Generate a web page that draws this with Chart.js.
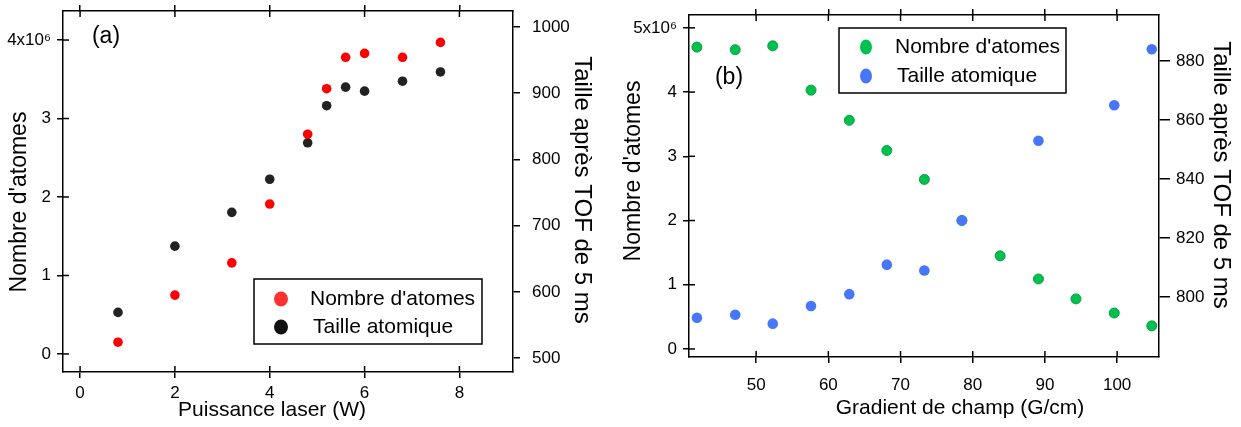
<!DOCTYPE html>
<html>
<head>
<meta charset="utf-8">
<script src="https://cdn.jsdelivr.net/npm/chart.js@4/dist/chart.umd.min.js"></script>
<style>
html, body { margin: 0; padding: 0; background: #fff; }
#wrapA { position: absolute; left: 0; top: 0; width: 620px; height: 427px; }
#wrapB { position: absolute; left: 620px; top: 0; width: 621px; height: 427px; }
</style>
</head>
<body>
<div id="wrapA"><canvas id="chartA"></canvas></div>
<div id="wrapB"><canvas id="chartB"></canvas></div>
<script>
// (a) puissance laser
var puissance = [0.8, 2, 3.2, 4, 4.8, 5.2, 5.6, 6, 6.8, 7.6];
var nombreA = [0.15e6, 0.75e6, 1.16e6, 1.91e6, 2.80e6, 3.38e6, 3.78e6, 3.83e6, 3.78e6, 3.97e6];
var tailleA = [569, 669, 720, 770, 825, 881, 909, 903, 918, 932];
var ticksPuissance = [0, 2, 4, 6, 8];
var ticksNombreA = [0, 1e6, 2e6, 3e6, 4e6];
var ticksTailleA = [500, 600, 700, 800, 900, 1000];

// (b) gradient de champ
var gradient = [41.8, 47.1, 52.3, 57.6, 62.9, 68.1, 73.3, 78.5, 83.8, 89.1, 94.3, 99.6, 104.8];
var nombreB = [4.70e6, 4.66e6, 4.72e6, 4.03e6, 3.56e6, 3.09e6, 2.64e6, 2.00e6, 1.45e6, 1.09e6, 0.78e6, 0.56e6, 0.36e6];
var tailleB = [793, 794, 791, 797, 801, 811, 809, 826, null, 853, null, 865, 884];
var ticksGradient = [50, 60, 70, 80, 90, 100];
var ticksNombreB = [0, 1e6, 2e6, 3e6, 4e6, 5e6];
var ticksTailleB = [800, 820, 840, 860, 880];

var FONT = '"Liberation Sans", Arial, sans-serif';

function pts(xs, ys) {
  var out = [];
  for (var i = 0; i < xs.length; i++) {
    if (ys[i] !== null) out.push({x: xs[i], y: ys[i]});
  }
  return out;
}
function setTicks(arr) {
  return function(s) { s.ticks = arr.map(function(v) { return {value: v}; }); };
}
function fixSize(w, h) {
  return function(s) {
    if (w != null) s.width = w;
    if (h != null) s.height = h;
    // no extra room for label overflow, the frame is placed by hand
    s.paddingTop = 0; s.paddingBottom = 0; s.paddingLeft = 0; s.paddingRight = 0;
  };
}

// ticks that also go inside the frame
var innerTicks = {
  id: 'innerTicks',
  afterDatasetsDraw: function(chart, args, o) {
    var ctx = chart.ctx, a = chart.chartArea;
    ctx.save();
    ctx.strokeStyle = '#000';
    ctx.lineWidth = 1.5;
    o.scales.forEach(function(id) {
      var s = chart.scales[id];
      s.ticks.forEach(function(t) {
        var p = s.getPixelForValue(t.value);
        ctx.beginPath();
        if (s.isHorizontal()) {
          var y0 = s.position === 'top' ? a.top : a.bottom;
          var d = s.position === 'top' ? 1 : -1;
          ctx.moveTo(p, y0); ctx.lineTo(p, y0 + d * o.len);
        } else {
          var x0 = s.position === 'left' ? a.left : a.right;
          var d2 = s.position === 'left' ? 1 : -1;
          ctx.moveTo(x0, p); ctx.lineTo(x0 + d2 * o.len, p);
        }
        ctx.stroke();
      });
    });
    ctx.restore();
  }
};

// boxed legend inside the plot
var boxLegend = {
  id: 'boxLegend',
  afterDraw: function(chart, args, o) {
    var ctx = chart.ctx;
    ctx.save();
    ctx.strokeStyle = '#000';
    ctx.lineWidth = 1.5;
    ctx.strokeRect(o.x, o.y, o.w, o.h);
    ctx.font = o.font;
    ctx.textBaseline = 'middle';
    chart.data.datasets.forEach(function(ds, i) {
      var cy = o.y + o.rowTop + i * o.rowGap;
      ctx.beginPath();
      ctx.ellipse(o.markX, cy, o.rx, o.ry, 0, 0, 2 * Math.PI);
      ctx.fillStyle = o.colors[i];
      ctx.fill();
      ctx.fillStyle = '#000';
      ctx.fillText(ds.label, o.textX[i], cy);
    });
    ctx.restore();
  }
};

// axis titles and panel tag
var labels = {
  id: 'labels',
  afterDraw: function(chart, args, o) {
    var ctx = chart.ctx;
    o.items.forEach(function(it) {
      ctx.save();
      ctx.translate(it.x, it.y);
      ctx.rotate((it.rot || 0) * Math.PI / 180);
      ctx.font = it.font;
      ctx.fillStyle = '#000';
      ctx.textAlign = 'center';
      ctx.textBaseline = 'middle';
      ctx.fillText(it.text, 0, 0);
      ctx.restore();
    });
  }
};

function axis(pos, min, max, tickArr, size, tickLen, pad, cb, showLabels) {
  var horiz = pos === 'top' || pos === 'bottom';
  return {
    type: 'linear',
    position: pos,
    min: min,
    max: max,
    afterBuildTicks: setTicks(tickArr),
    afterFit: horiz ? fixSize(null, size) : fixSize(size, null),
    ticks: {
      display: showLabels,
      color: '#000',
      font: {family: FONT, size: 17},
      padding: pad,
      maxRotation: 0,
      autoSkip: false,
      callback: cb
    },
    grid: {drawOnChartArea: false, drawTicks: true, tickLength: tickLen, color: '#000', lineWidth: 1.5},
    border: {display: true, color: '#000', width: 1.5}
  };
}

function plain(v) { return String(v); }

new Chart(document.getElementById('chartA'), {
  type: 'scatter',
  data: {
    datasets: [{
      label: "Nombre d'atomes",
      data: pts(puissance, nombreA),
      yAxisID: 'y',
      backgroundColor: '#ff0000',
      borderWidth: 0,
      pointRadius: 4.8
    }, {
      label: 'Taille atomique',
      data: pts(puissance, tailleA),
      yAxisID: 'y2',
      backgroundColor: '#222222',
      borderWidth: 0,
      pointRadius: 4.8
    }]
  },
  options: {
    responsive: true,
    maintainAspectRatio: false,
    animation: false,
    layout: {padding: 0},
    scales: {
      x: axis('bottom', -0.36, 9.13, ticksPuissance, 55, 6, 5, plain, true),
      xTop: axis('top', -0.36, 9.13, ticksPuissance, 11, 6, 0, plain, false),
      y: axis('left', -0.23e6, 4.37e6, ticksNombreA, 63, 6, 6, function(v) {
        return v === 4e6 ? '4x10\u2076' : String(v / 1e6);
      }, true),
      y2: axis('right', 479, 1024, ticksTailleA, 107, 7, 12, plain, true)
    },
    plugins: {
      legend: {display: false},
      tooltip: {enabled: false},
      innerTicks: {scales: ['x', 'xTop', 'y'], len: 6},
      boxLegend: {
        x: 254, y: 279, w: 228, h: 65, rowTop: 20, rowGap: 28,
        markX: 281, rx: 7, ry: 7.5, textX: [310, 313],
        colors: ['#ff3030', '#111111'],
        font: '21px ' + FONT
      },
      labels: {items: [
        {text: '(a)', x: 106, y: 37, font: '23px ' + FONT},
        {text: "Nombre d'atomes", x: 20, y: 202, rot: -90, font: '23px ' + FONT},
        {text: 'Puissance laser (W)', x: 272, y: 410, font: '21px ' + FONT},
        {text: 'Taille après TOF de 5 ms', x: 582, y: 190, rot: 90, font: '24px ' + FONT}
      ]}
    }
  },
  plugins: [innerTicks, boxLegend, labels]
});

new Chart(document.getElementById('chartB'), {
  type: 'scatter',
  data: {
    datasets: [{
      label: "Nombre d'atomes",
      data: pts(gradient, nombreB),
      yAxisID: 'y',
      backgroundColor: '#00c050',
      borderColor: '#06a23c',
      borderWidth: 1,
      pointRadius: 5,
      order: 1
    }, {
      label: 'Taille atomique',
      data: pts(gradient, tailleB),
      yAxisID: 'y2',
      backgroundColor: '#4876fa',
      borderWidth: 0,
      pointRadius: 5.3,
      order: 0
    }]
  },
  options: {
    responsive: true,
    maintainAspectRatio: false,
    animation: false,
    layout: {padding: 0},
    scales: {
      x: axis('bottom', 40.7, 105.8, ticksGradient, 70, 6, 12, plain, true),
      xTop: axis('top', 40.7, 105.8, ticksGradient, 15, 6, 0, plain, false),
      y: axis('left', -0.125e6, 5.2e6, ticksNombreB, 69, 6, 6, function(v) {
        return v === 5e6 ? '5x10\u2076' : String(v / 1e6);
      }, true),
      y2: axis('right', 779.7, 895.6, ticksTailleB, 82, 11, 6, plain, true)
    },
    plugins: {
      legend: {display: false},
      tooltip: {enabled: false},
      innerTicks: {scales: ['x', 'xTop', 'y'], len: 6},
      boxLegend: {
        x: 219, y: 28, w: 227, h: 65, rowTop: 19, rowGap: 29,
        markX: 246, rx: 6, ry: 7.5, textX: [275, 277],
        colors: ['#00c050', '#4876fa'],
        font: '21px ' + FONT
      },
      labels: {items: [
        {text: '(b)', x: 109, y: 78, font: '23px ' + FONT},
        {text: "Nombre d'atomes", x: 14, y: 171, rot: -90, font: '23px ' + FONT},
        {text: 'Gradient de champ (G/cm)', x: 340, y: 408, font: '21px ' + FONT},
        {text: 'Taille après TOF de 5 ms', x: 601, y: 175, rot: 90, font: '24px ' + FONT}
      ]}
    }
  },
  plugins: [innerTicks, boxLegend, labels]
});
</script>
</body>
</html>
